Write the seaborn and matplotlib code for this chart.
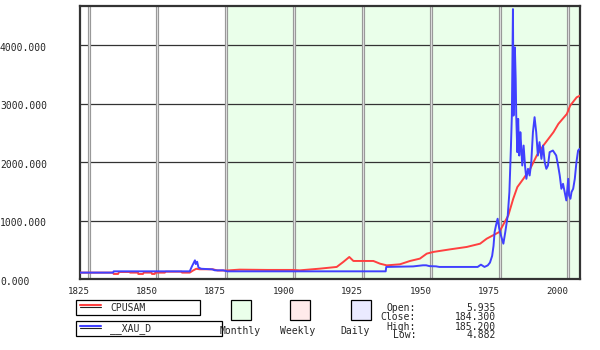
import matplotlib
matplotlib.use("Agg")
import matplotlib.pyplot as plt
import matplotlib.transforms as mtransforms
from matplotlib.patches import Rectangle
from matplotlib.lines import Line2D
import seaborn as sns
import pandas as pd

# ---------------- data ----------------
cpusam_year = [1821.7, 1833.8, 1834.0, 1835.6, 1836.0, 1839.9, 1840.0, 1842.9, 1843.0, 1844.7,
               1845.0, 1847.8, 1848.0, 1849.0, 1849.2, 1852.7, 1853.0, 1858.8, 1859.0, 1861.8,
               1863.0, 1864.2, 1865.4, 1870.3, 1872.0, 1875.2, 1880.0, 1890.0, 1899.5, 1902.0,
               1909.4, 1915.5, 1917.9, 1920.1, 1921.6, 1925.2, 1928.9, 1931.3, 1933.8, 1938.6,
               1942.3, 1945.9, 1948.4, 1950.8, 1956.9, 1963.0, 1967.9, 1970.3, 1974.9, 1978.2,
               1980.0, 1981.5, 1983.7, 1986.2, 1988.6, 1991.0, 1994.7, 1996.5, 1999.6, 2000.8,
               2003.2, 2004.4]
cpusam_val = [114, 114, 91, 91, 125, 125, 114, 114, 91, 91,
              114, 114, 91, 91, 114, 114, 130, 130, 114, 114,
              150, 180, 171, 171, 150, 150, 165, 160, 160, 153,
              182, 211, 296, 381, 313, 313, 313, 267, 238, 256,
              313, 353, 438, 467, 511, 552, 608, 693, 807, 1090,
              1375, 1574, 1715, 1886, 2113, 2283, 2511, 2653, 2823, 2964,
              3107, 3135]

xau_year = [1821.7, 1833.8, 1834.0, 1861.8, 1862.5, 1863.7, 1864.0, 1864.5, 1865.0, 1866.0,
            1868.0, 1870.0, 1871.0, 1874.0, 1875.5, 1933.4, 1933.6, 1943.4, 1947.0, 1948.2,
            1949.4, 1951.8, 1953.0, 1967.0, 1968.2, 1969.5, 1970.7, 1971.5, 1972.3, 1972.8,
            1973.2, 1973.7, 1974.3, 1974.9, 1975.5, 1976.4, 1977.1, 1978.0, 1978.6, 1979.1,
            1979.5, 1979.9, 1980.1, 1980.4, 1980.6, 1980.9, 1981.1, 1981.5, 1981.8, 1982.2,
            1982.6, 1982.9, 1983.3, 1983.8, 1984.3, 1984.8, 1985.4, 1986.0, 1986.6, 1987.2,
            1987.8, 1988.4, 1989.0, 1989.6, 1990.3, 1990.9, 1991.5, 1992.1, 1992.7, 1993.3,
            1994.5, 1995.7, 1996.4, 1997.0, 1997.6, 1998.2, 1998.8, 1999.4, 2000.1, 2000.4,
            2000.9, 2001.3, 2001.9, 2002.5, 2003.1, 2003.7, 2004.3]
xau_val = [114, 114, 136, 136, 211, 324, 260, 300, 200, 180,
           175, 170, 153, 153, 136, 136, 211, 220, 239, 239,
           225, 221, 211, 211, 250, 211, 238, 285, 400, 570,
           807, 920, 1034, 864, 750, 608, 807, 1090, 1489, 2170,
           2794, 4612, 2794, 3874, 3959, 3419, 2794, 2170, 2738, 2113,
           2511, 2283, 1942, 2283, 1942, 1715, 1886, 1772, 2000, 2511,
           2767, 2511, 2113, 2341, 2056, 2283, 2000, 1886, 1942, 2170,
           2198, 2113, 1942, 1772, 1545, 1630, 1489, 1346, 1715, 1431,
           1375, 1489, 1545, 1715, 2000, 2198, 2227]

x_ticks = [1825, 1850, 1875, 1900, 1925, 1950, 1975, 2000]
y_ticks = [0, 1000, 2000, 3000, 4000]
series_names = ["CPUSAM", "__XAU_D"]
period_labels = ["Monthly", "Weekly", "Daily"]
stat_names = ["Open:", "Close:", "High:", "Low:"]
stat_values = ["5.935", "184.300", "185.200", "4.882"]

# ---------------- figure ----------------
sns.set_style("white")
plt.rcParams['font.family'] = ['DejaVu Sans Mono', 'DejaVu Sans']

W, H = 600, 350
fig = plt.figure(figsize=(6, 3.5), dpi=100)
fig.patch.set_facecolor("white")

def fx(x):
    return x / W

def fy(y):
    return 1 - y / H

ax_l, ax_r, ax_t, ax_b = 80, 580, 6, 279.3
ax = fig.add_axes([fx(ax_l), fy(ax_b), (ax_r - ax_l) / W, (ax_b - ax_t) / H])
ax.set_facecolor("white")

xmin, xmax = 1821.7, 2004.4
ymin, ymax = 0, 4665
ax.set_xlim(xmin, xmax)
ax.set_ylim(ymin, ymax)

# green shaded region
ax.axvspan(1875.7, xmax, color="#eaffea", zorder=0, lw=0)

# horizontal grid
for v in y_ticks[1:]:
    ax.axhline(v, color="#333333", lw=0.9, zorder=1)
# vertical grid (double gray lines)
for v in x_ticks:
    ax.axvline(v, color="#999999", lw=2.3, zorder=1)
    ax.axvline(v, color="#dddddd", lw=0.7, zorder=1)

df_cpi = pd.DataFrame({"year": cpusam_year, "value": cpusam_val})
df_xau = pd.DataFrame({"year": xau_year, "value": xau_val})
sns.lineplot(data=df_cpi, x="year", y="value", color="#ff4040", lw=1.4,
             estimator=None, sort=False, ax=ax, zorder=3)
sns.lineplot(data=df_xau, x="year", y="value", color="#4040ff", lw=1.4,
             estimator=None, sort=False, ax=ax, zorder=4)
ax.set_xlabel("")
ax.set_ylabel("")

for s in ax.spines.values():
    s.set_visible(True)
    s.set_color("#333333")
    s.set_linewidth(1.6)

ax.set_xticks(x_ticks)
ax.set_xticklabels([str(t) for t in x_ticks], fontsize=6.6)
ax.set_yticks(y_ticks)
ax.set_yticklabels([f"{t}.000" for t in y_ticks], fontsize=7, ha="left")
ax.tick_params(axis="x", length=0, pad=5.5)
ax.tick_params(axis="y", length=0, pad=57.6)

off_x = mtransforms.ScaledTranslation(-10.5 / 100, 0, fig.dpi_scale_trans)
for lab in ax.get_xticklabels():
    lab.set_transform(lab.get_transform() + off_x)
off_y = mtransforms.ScaledTranslation(0, -1.7 / 100, fig.dpi_scale_trans)
for lab in ax.get_yticklabels():
    lab.set_transform(lab.get_transform() + off_y)

# ---------------- legend area ----------------
def rect(x0, y0, x1, y1, fc="none", ec="black", lw=0.9):
    fig.add_artist(Rectangle((fx(x0), fy(y1)), (x1 - x0) / W, (y1 - y0) / H,
                             transform=fig.transFigure, facecolor=fc,
                             edgecolor=ec, lw=lw))

def hline(x0, x1, y, color, lw):
    fig.add_artist(Line2D([fx(x0), fx(x1)], [fy(y), fy(y)], transform=fig.transFigure,
                          color=color, lw=lw))

legend_boxes = [(76, 300, 200, 315), (76, 320.7, 222, 335.7)]
legend_colors = ["#ff4040", "#4040ff"]
for (x0, y0, x1, y1), name, c in zip(legend_boxes, series_names, legend_colors):
    rect(x0, y0, x1, y1)
    ymid = y0 + 5
    hline(80, 101, ymid, c, 1.5)
    hline(80, 101, ymid + 2.3, "#222222", 0.8)
    fig.text(fx(110), fy(y0 + 7.7), name, fontsize=7, ha="left", va="center")

sq_colors = ["#eaffea", "#ffeaea", "#eaeaff"]
sq_x = [231, 290, 351]
lab_cx = [240, 297.5, 355]
for x0, c, lab, cx in zip(sq_x, sq_colors, period_labels, lab_cx):
    rect(x0, 300, x0 + 20, 320, fc=c)
    fig.text(fx(cx), fy(331), lab, fontsize=7, ha="center", va="center")

stat_y = [307.7, 317.3, 326.7, 335.5]
for nm, val, yy in zip(stat_names, stat_values, stat_y):
    fig.text(fx(416), fy(yy), nm, fontsize=7, ha="right", va="center")
    fig.text(fx(496), fy(yy), val, fontsize=7, ha="right", va="center")

fig.savefig("out.png", dpi=100, facecolor="white")
